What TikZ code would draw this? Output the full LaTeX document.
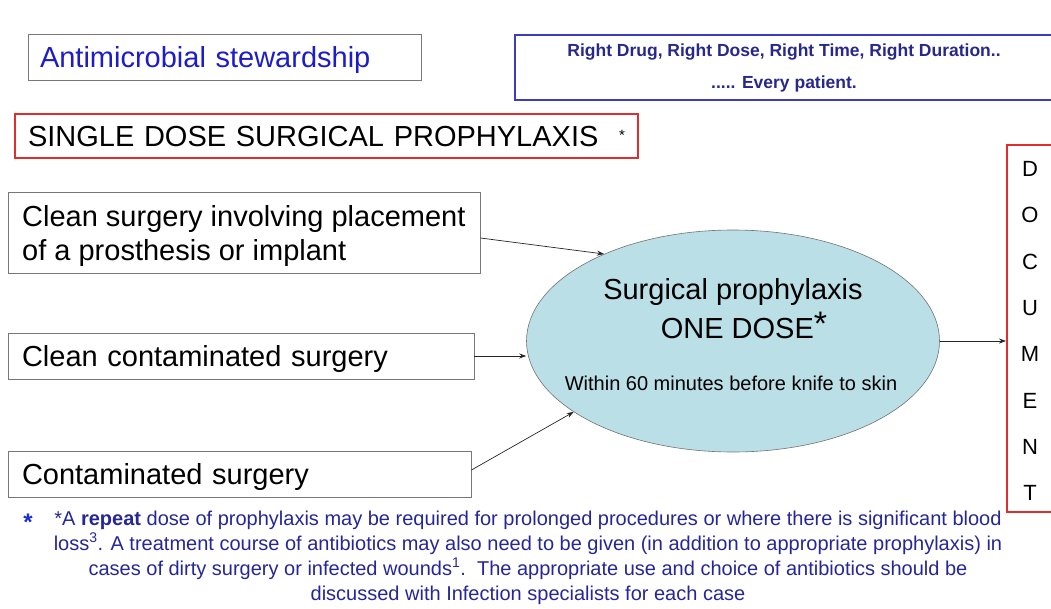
\documentclass[tikz,border=0pt]{standalone}
\usepackage{fontspec}
\setmainfont{Liberation Sans}
\usetikzlibrary{shapes.geometric,arrows.meta}
\definecolor{stewblue}{RGB}{28,28,200}
\definecolor{boxblue}{RGB}{60,60,190}
\definecolor{navy}{RGB}{40,40,140}
\definecolor{boxred}{RGB}{225,45,45}
\definecolor{ellfill}{RGB}{186,223,230}
\definecolor{notecol}{RGB}{38,38,150}
\definecolor{starblue}{RGB}{25,45,215}
\definecolor{graybord}{RGB}{120,120,120}
\tikzset{
  box/.style={draw=graybord, line width=0.9pt, rectangle, inner xsep=14pt, inner ysep=0pt, align=left, font=\fontsize{29}{34}\selectfont},
  onebox/.style={box, text depth=0pt},
  conn/.style={line width=0.7pt, draw=black!85, -{Stealth[length=7pt,width=5pt]}},
}
\begin{document}
\begin{tikzpicture}[x=1pt,y=-1pt]
\useasboundingbox (0,0) rectangle (1051,608);
\clip (0,0) rectangle (1051,608);

% header boxes
\node[onebox, text=stewblue, inner xsep=12pt, minimum width=393pt, minimum height=46pt, text width=369pt] (stew) at (224.5,57) {Antimicrobial stewardship};
\node[draw=boxblue, line width=1.8pt, minimum width=541pt, minimum height=65pt, inner sep=0pt] (rightbox) at (785.5,67.5) {};
\node[text=navy, font=\bfseries\fontsize{17.5}{32}\selectfont, align=center, inner sep=0pt] (righttext) at (784,68) {Right Drug, Right Dose, Right Time, Right Duration..\\..... Every patient.};

\node[onebox, draw=boxred, line width=1.3pt, inner xsep=13pt, minimum width=623pt, minimum height=44pt, text width=597pt] (single) at (326.5,136) {SINGLE DOSE SURGICAL PROPHYLAXIS\hfill\raisebox{6pt}{\fontsize{15}{15}\selectfont *}};

% left boxes
\node[box, minimum width=472pt, minimum height=81pt] (b1) at (244,232.5) {};
\node[font=\fontsize{29}{34}\selectfont, align=left, inner sep=0pt, anchor=west] (b1text) at (22,236) {Clean surgery involving placement\\of a prosthesis or implant};
\node[onebox, minimum width=466pt, minimum height=46pt, text width=438pt] (b2) at (241,356) {Clean contaminated surgery};
\node[onebox, minimum width=463pt, minimum height=46pt, text width=435pt] (b3) at (239.5,474) {Contaminated surgery};

% ellipse
\node[ellipse, draw=black!55, line width=0.6pt, fill=ellfill, minimum width=413pt, minimum height=222pt, inner sep=0pt] (ell) at (733,341) {};
\node[font=\fontsize{29}{34}\selectfont, inner sep=0pt] (ellt1) at (733,292) {Surgical prophylaxis};
\node[font=\fontsize{29}{34}\selectfont, inner sep=0pt] (ellt2) at (744,325) {ONE DOSE\raisebox{3pt}{\fontsize{34}{34}\selectfont *}};
\node[font=\fontsize{20}{24}\selectfont, inner sep=0pt] (ellt3) at (731,383) {Within 60 minutes before knife to skin};

% document box
\node[draw=boxred, line width=2pt, minimum width=50pt, minimum height=367pt, inner sep=0pt] (doc) at (1032,328.5) {};
\node[font=\fontsize{22}{46.3}\selectfont, align=center, inner sep=0pt] (doctext) at (1030,331) {D\\O\\C\\U\\M\\E\\N\\T};

% connectors
\draw[conn] ([yshift=-5.5pt]b1.east) -- (ell.146);
\draw[conn] (b2.east) -- (b2.east -| ell.west);
\draw[conn] ([yshift=4pt]b3.east) -- (ell.204);
\draw[conn] (ell.east) -- (ell.east -| doc.west);

% footnote
\node[text=starblue, font=\bfseries\fontsize{24}{24}\selectfont, inner sep=0pt] (star) at (28,522) {*};
\node[text=notecol, font=\fontsize{20}{25}\selectfont, align=center, inner sep=0pt] (note) at (528,557.5) {*A \textbf{repeat} dose of prophylaxis may be required for prolonged procedures or where there is significant blood\\loss\textsuperscript{3}. A treatment course of antibiotics may also need to be given (in addition to appropriate prophylaxis) in\\cases of dirty surgery or infected wounds\textsuperscript{1}.\ \ The appropriate use and choice of antibiotics should be\\discussed with Infection specialists for each case};
\end{tikzpicture}
\end{document}
